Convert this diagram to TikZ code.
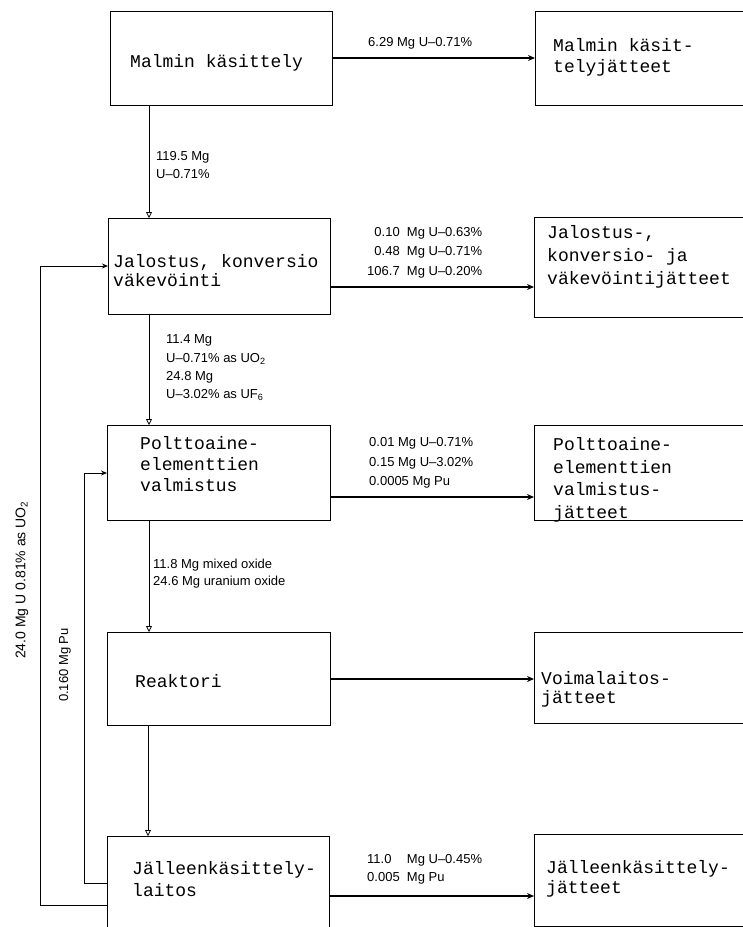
\documentclass[tikz,border=0pt]{standalone}
\usepackage{fontspec}
\setmainfont{Liberation Sans}
\newfontfamily\tw{Liberation Mono}
\usetikzlibrary{arrows.meta,calc}
\begin{document}
\begin{tikzpicture}[x=1pt,y=-1pt,
 box/.style={draw,line width=1.3pt,inner sep=0pt,anchor=north west},
 bt/.style={font=\tw\fontsize{18}{21}\selectfont,anchor=west,inner sep=0pt,align=left},
 lab/.style={font=\fontsize{13}{18}\selectfont,anchor=west,inner sep=0pt,align=left},
 down/.style={line width=0.8pt,-{Triangle[open,length=6pt,width=6pt]}},
 rarr/.style={line width=1.6pt,-{Stealth[length=7pt,width=6pt]}},
 fb/.style={line width=1pt,-{Stealth[length=6pt,width=5pt]}}]
\useasboundingbox (0,0) rectangle (743,927);
\fill[white] (0,0) rectangle (743,927);
% process boxes
\node[box,minimum width=222pt,minimum height=94pt] (b1) at (110,11) {};
\node[box,minimum width=222pt,minimum height=96pt] (b2) at (108,218) {};
\node[box,minimum width=223pt,minimum height=95pt] (b3) at (107,425) {};
\node[box,minimum width=223pt,minimum height=93pt] (b4) at (107,632) {};
\node[box,minimum width=222pt,minimum height=110pt] (b5) at (107,836) {};
% waste boxes
\node[box,minimum width=240pt,minimum height=94pt] (r1) at (535,11) {};
\node[box,minimum width=240pt,minimum height=100pt] (r2) at (534,217) {};
\node[box,minimum width=240pt,minimum height=95pt] (r3) at (534,425) {};
\node[box,minimum width=240pt,minimum height=91pt] (r4) at (534,632) {};
\node[box,minimum width=240pt,minimum height=92pt] (r5) at (534,834) {};
% box texts
\node[bt] (t1) at (130,63) {Malmin käsittely};
\node[bt,font=\tw\fontsize{18}{19}\selectfont] (t2) at (113,271) {Jalostus, konversio\\väkevöinti};
\node[bt] (t3) at (140,464) {Polttoaine-\\elementtien\\valmistus};
\node[bt] (t4) at (135,681) {Reaktori};
\node[bt,font=\tw\fontsize{18}{22}\selectfont] (t5) at (132,879) {Jälleenkäsittely-\\laitos};
\node[bt] (u1) at (553,57) {Malmin käsit-\\telyjätteet};
\node[bt,font=\tw\fontsize{18}{23}\selectfont] (u2) at (547,257) {Jalostus-,\\konversio- ja\\väkevöintijätteet};
\node[bt,font=\tw\fontsize{18}{22.5}\selectfont] (u3) at (553,480) {Polttoaine-\\elementtien\\valmistus-\\jätteet};
\node[bt,font=\tw\fontsize{18}{19}\selectfont] (u4) at (541,689) {Voimalaitos-\\jätteet};
\node[bt,font=\tw\fontsize{18}{20}\selectfont] (u5) at (546,879) {Jälleenkäsittely-\\jätteet};
% flows to waste
\draw[rarr] (b1.east |- 0,58) -- (r1.west |- 0,58);
\draw[rarr] (b2.east |- 0,287) -- (r2.west |- 0,287);
\draw[rarr] (b3.east |- 0,497) -- (r3.west |- 0,497);
\draw[rarr] (b4.east |- 0,679) -- (r4.west |- 0,679);
\draw[rarr] (b5.east |- 0,896) -- (r5.west |- 0,896);
% main chain
\draw[down] (b1.south -| 149,0) -- (b2.north -| 149,0);
\draw[down] (b2.south -| 149,0) -- (b3.north -| 149,0);
\draw[down] (b3.south -| 149,0) -- (b4.north -| 149,0);
\draw[down] (b4.south -| 148,0) -- (b5.north -| 148,0);
% recycle
\draw[fb] (b5.west |- 0,905) -| (40,266) -- (b2.west |- 0,266);
\draw[fb] (b5.west |- 0,883) -| (84,473) -- (b3.west |- 0,473);
% labels
\node[lab] (l1) at (368,43) {6.29 Mg U–0.71\%};
\node[lab,font=\fontsize{13}{18}\selectfont] (l2) at (156,165) {119.5 Mg\\U–0.71\%};
\node[lab,font=\fontsize{13}{19.5}\selectfont] (l3) at (367,252) {\begin{tabular}{@{}r@{\ \ }l@{}}0.10&Mg U–0.63\%\\0.48&Mg U–0.71\%\\106.7&Mg U–0.20\%\end{tabular}};
\node[lab,font=\fontsize{13}{18.3}\selectfont] (l4) at (166,368) {11.4 Mg\\U–0.71\% as UO\textsubscript{2}\\24.8 Mg\\U–3.02\% as UF\textsubscript{6}};
\node[lab,font=\fontsize{13}{19.5}\selectfont] (l5) at (369,463) {0.01 Mg U–0.71\%\\0.15 Mg U–3.02\%\\0.0005 Mg Pu};
\node[lab,font=\fontsize{13}{17}\selectfont] (l6) at (153,574) {11.8 Mg mixed oxide\\24.6 Mg uranium oxide};
\node[lab,font=\fontsize{13}{18}\selectfont] (l7) at (367,869) {\begin{tabular}{@{}l@{\ \ }l@{}}11.0&Mg U–0.45\%\\0.005&Mg Pu\end{tabular}};
\node[lab,anchor=center,rotate=90,font=\fontsize{14}{16}\selectfont] (l8) at (22,580) {24.0 Mg U 0.81\% as UO\textsubscript{2}};
\node[lab,anchor=center,rotate=90,font=\fontsize{13}{16}\selectfont] (l9) at (65,665) {0.160 Mg Pu};
\end{tikzpicture}
\end{document}
